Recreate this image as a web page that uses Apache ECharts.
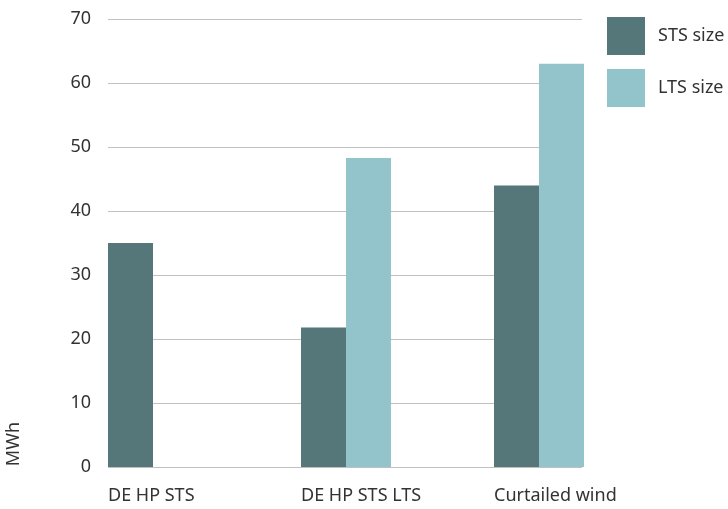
<!DOCTYPE html>
<html><head><meta charset="utf-8">
<script src="https://cdn.jsdelivr.net/npm/echarts@6/dist/echarts.min.js"></script>
<style>html,body{margin:0;padding:0;background:#fff}#c{width:728px;height:509px}</style>
</head><body><div id="c"></div>
<script>
const categories = ['DE HP STS', 'DE HP STS LTS', 'Curtailed wind'];
const stsSize = [35, 21.8, 44];
const ltsSize = [null, 48.3, 63];
const seriesNames = ['STS size', 'LTS size'];
const yTicks = [0, 10, 20, 30, 40, 50, 60, 70];
const yTitle = 'MWh';

const FONT = '"Noto Sans", sans-serif';
const TXT = '#333';
const FS = 18;
const chart = echarts.init(document.getElementById('c'), null, {renderer: 'canvas'});
chart.setOption({
  animation: false,
  textStyle: {fontFamily: FONT},
  grid: [
    {left: 56.5, right: 92.5, top: 19, bottom: 42, containLabel: false},
    {left: 108, right: 146, top: 19, bottom: 42, containLabel: false}
  ],
  legend: {
    orient: 'vertical', left: 607, top: 17, padding: 0, itemWidth: 38, itemHeight: 38, itemGap: 14,
    icon: 'rect', textStyle: {fontSize: FS, color: TXT, fontFamily: FONT, padding: [0,0,0,8]},
    data: seriesNames
  },
  xAxis: [
    {gridIndex: 0, type: 'category', data: categories,
     axisLine: {show: false}, axisTick: {show: false},
     axisLabel: {interval: 0, hideOverlap: false, margin: 20, color: TXT, fontSize: FS, fontFamily: FONT,
       formatter: v => '{a|' + v + '}',
       rich: {a: {width: 90, align: 'left', fontSize: FS, color: TXT, fontFamily: FONT}}}},
    {gridIndex: 1, type: 'value', min: 0, max: 1, show: false}
  ],
  yAxis: [
    {gridIndex: 0, type: 'value', min: 0, max: 70, interval: 10, show: false},
    {gridIndex: 1, type: 'value', min: yTicks[0], max: yTicks[yTicks.length-1], interval: 10,
     axisLine: {show: false}, axisTick: {show: false},
     axisLabel: {margin: 17, color: TXT, fontSize: FS, fontFamily: FONT},
     splitLine: {show: true, lineStyle: {color: '#c0c0c0', width: 1.2}}}
  ],
  graphic: [{type: 'text', left: 5, top: 422, rotation: Math.PI/2,
    style: {text: yTitle, fontSize: FS, fill: TXT, fontFamily: FONT}}],
  series: [
    {name: seriesNames[0], type: 'bar', xAxisIndex: 0, yAxisIndex: 0, data: stsSize,
     barWidth: 45, barGap: '0%', itemStyle: {color: '#557779'}},
    {name: seriesNames[1], type: 'bar', xAxisIndex: 0, yAxisIndex: 0, data: ltsSize,
     barWidth: 45, barGap: '0%', itemStyle: {color: '#94c4cb'}}
  ]
});
</script></body></html>
